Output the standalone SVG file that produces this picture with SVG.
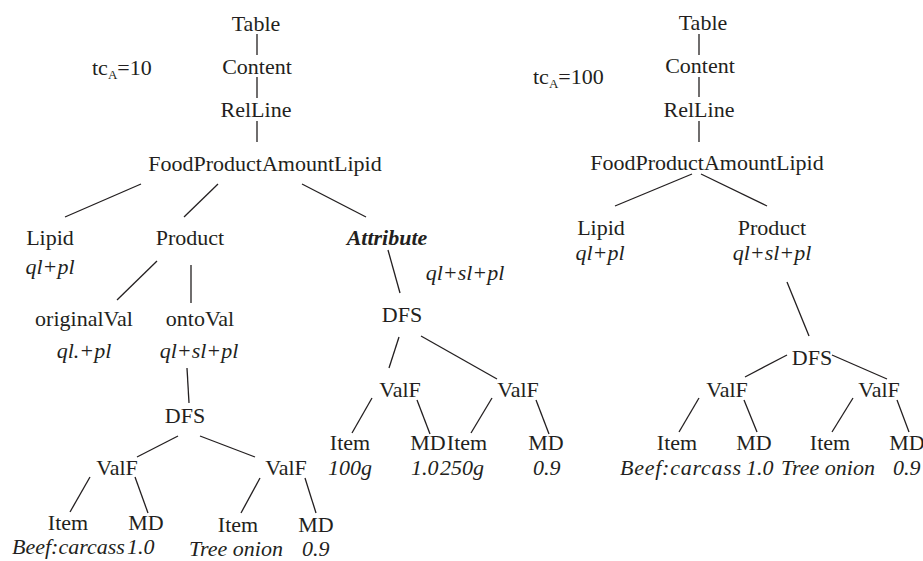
<svg xmlns="http://www.w3.org/2000/svg" width="923" height="561" viewBox="0 0 923 561">
<style>
text{font-family:"Liberation Serif","Times New Roman",serif;font-size:22px;fill:#231f20}
.c{text-anchor:middle}
.i{font-style:italic}
.b{font-weight:bold;font-style:italic}
.sub{font-size:13px}
#connectors line{stroke:#231f20;stroke-width:1.3;fill:none}
</style>
<rect width="923" height="561" fill="#ffffff"/>
<g id="connectors">
<line x1="257" y1="34" x2="257" y2="55"/>
<line x1="257" y1="77" x2="257" y2="98"/>
<line x1="257" y1="121" x2="257" y2="142"/>
<line x1="141" y1="184" x2="65" y2="217"/>
<line x1="218" y1="184" x2="184" y2="217"/>
<line x1="302" y1="184" x2="366" y2="217"/>
<line x1="157" y1="261" x2="117" y2="300"/>
<line x1="191" y1="265" x2="191" y2="303"/>
<line x1="187" y1="368" x2="189" y2="403"/>
<line x1="178" y1="436" x2="137" y2="457"/>
<line x1="200" y1="436" x2="255" y2="457"/>
<line x1="90" y1="477" x2="70" y2="512"/>
<line x1="135" y1="477" x2="148" y2="513"/>
<line x1="260" y1="478" x2="241" y2="513"/>
<line x1="305" y1="478" x2="316" y2="513"/>
<line x1="388" y1="250" x2="400" y2="293"/>
<line x1="399" y1="337" x2="389" y2="368"/>
<line x1="421" y1="336" x2="497" y2="379"/>
<line x1="372" y1="398" x2="352" y2="433"/>
<line x1="417" y1="400" x2="430" y2="434"/>
<line x1="492" y1="398" x2="471" y2="433"/>
<line x1="536" y1="400" x2="549" y2="434"/>
<line x1="699" y1="34" x2="699" y2="55"/>
<line x1="699" y1="77" x2="699" y2="97"/>
<line x1="699" y1="121" x2="699" y2="142"/>
<line x1="692" y1="174" x2="615" y2="206"/>
<line x1="701" y1="174" x2="767" y2="206"/>
<line x1="787" y1="282" x2="809" y2="336"/>
<line x1="787" y1="355" x2="745" y2="377"/>
<line x1="832" y1="355" x2="887" y2="379"/>
<line x1="699" y1="398" x2="679" y2="432"/>
<line x1="744" y1="400" x2="757" y2="432"/>
<line x1="853" y1="398" x2="832" y2="432"/>
<line x1="897" y1="400" x2="909" y2="432"/>
</g>
<g id="left-tc"><text x="92" y="75">tc<tspan class="sub" dy="4">A</tspan><tspan dy="-4">=10</tspan></text></g>
<g id="L-table"><text class="c" x="256" y="31">Table</text></g>
<g id="L-content"><text class="c" x="257" y="74">Content</text></g>
<g id="L-relline"><text class="c" x="256" y="117">RelLine</text></g>
<g id="L-food"><text class="c" x="265" y="171">FoodProductAmountLipid</text></g>
<g id="L-lipid"><text class="c" x="50" y="245">Lipid</text><text class="c i" x="50" y="274">ql+pl</text></g>
<g id="L-product"><text class="c" x="190" y="245">Product</text></g>
<g id="L-attribute"><text class="c b" x="387" y="245">Attribute</text><text class="c i" x="465" y="280">ql+sl+pl</text></g>
<g id="L-originalVal"><text class="c" x="84" y="326">originalVal</text><text class="c i" x="84" y="358">ql.+pl</text></g>
<g id="L-ontoVal"><text class="c" x="200" y="326">ontoVal</text><text class="c i" x="199" y="358">ql+sl+pl</text></g>
<g id="L-dfs1"><text class="c" x="185" y="423">DFS</text></g>
<g id="L-valf1"><text class="c" x="117" y="475">ValF</text></g>
<g id="L-valf2"><text class="c" x="286" y="475">ValF</text></g>
<g id="L-item1"><text class="c" x="68" y="530">Item</text><text class="i" x="12" y="554">Beef:carcass</text></g>
<g id="L-md1"><text class="c" x="146" y="530">MD</text><text class="i" x="127" y="554">1.0</text></g>
<g id="L-item2"><text class="c" x="238" y="532">Item</text><text class="i" x="189" y="556">Tree onion</text></g>
<g id="L-md2"><text class="c" x="316" y="532">MD</text><text class="i" x="302" y="556">0.9</text></g>
<g id="L-dfs2"><text class="c" x="402" y="322">DFS</text></g>
<g id="L-valf3"><text class="c" x="400" y="397">ValF</text></g>
<g id="L-valf4"><text class="c" x="518" y="397">ValF</text></g>
<g id="L-item3"><text class="c" x="350" y="450">Item</text><text class="i" x="328" y="475">100g</text></g>
<g id="L-md3"><text class="c" x="428" y="450">MD</text><text class="i" x="411" y="475">1.0</text></g>
<g id="L-item4"><text class="c" x="467" y="450">Item</text><text class="i" x="440" y="475">250g</text></g>
<g id="L-md4"><text class="c" x="546" y="450">MD</text><text class="i" x="533" y="475">0.9</text></g>
<g id="right-tc"><text x="533" y="84">tc<tspan class="sub" dy="4">A</tspan><tspan dy="-4">=100</tspan></text></g>
<g id="R-table"><text class="c" x="703" y="30">Table</text></g>
<g id="R-content"><text class="c" x="700" y="73">Content</text></g>
<g id="R-relline"><text class="c" x="699" y="117">RelLine</text></g>
<g id="R-food"><text class="c" x="707" y="170">FoodProductAmountLipid</text></g>
<g id="R-lipid"><text class="c" x="601" y="235">Lipid</text><text class="c i" x="600" y="260">ql+pl</text></g>
<g id="R-product"><text class="c" x="772" y="235">Product</text><text class="c i" x="772" y="260">ql+sl+pl</text></g>
<g id="R-dfs"><text class="c" x="812" y="365">DFS</text></g>
<g id="R-valf1"><text class="c" x="727" y="397">ValF</text></g>
<g id="R-valf2"><text class="c" x="879" y="397">ValF</text></g>
<g id="R-item1"><text class="c" x="677" y="450">Item</text><text class="i" x="620" y="475" textLength="121" lengthAdjust="spacing">Beef:carcass</text></g>
<g id="R-md1"><text class="c" x="754" y="450">MD</text><text class="i" x="746" y="475">1.0</text></g>
<g id="R-item2"><text class="c" x="830" y="450">Item</text><text class="i" x="781" y="475">Tree onion</text></g>
<g id="R-md2"><text class="c" x="907" y="450">MD</text><text class="i" x="893" y="475">0.9</text></g>
</svg>
